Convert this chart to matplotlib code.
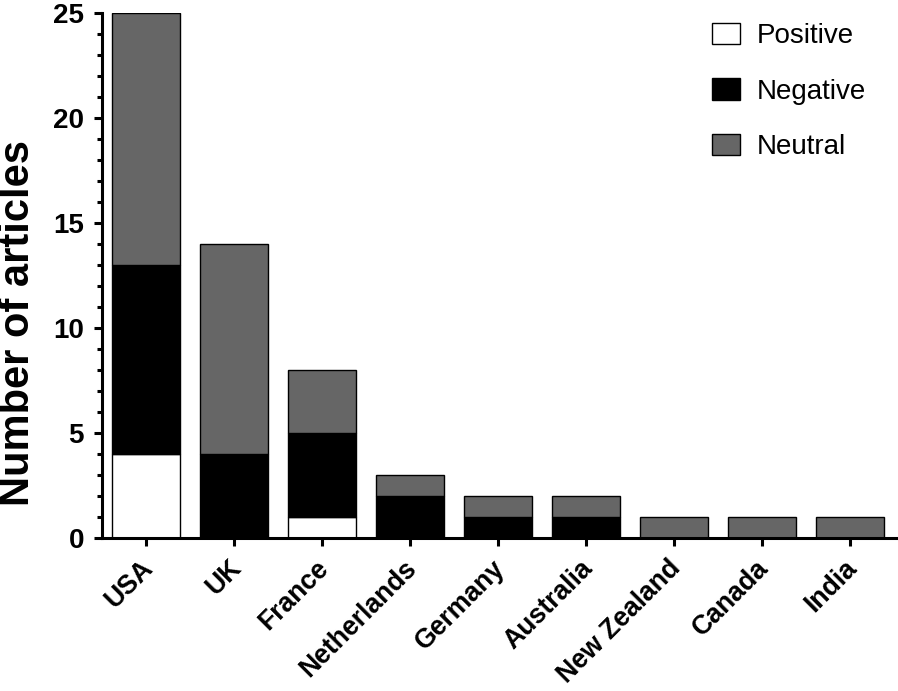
import matplotlib.pyplot as plt
import numpy as np
from matplotlib.ticker import MultipleLocator
from matplotlib.transforms import ScaledTranslation

plt.rcParams['font.family'] = ['Liberation Sans', 'DejaVu Sans']

# data
countries = ['USA', 'UK', 'France', 'Netherlands', 'Germany', 'Australia',
             'New Zealand', 'Canada', 'India']
positive = [4, 0, 1, 0, 0, 0, 0, 0, 0]
negative = [9, 4, 4, 2, 1, 1, 0, 0, 0]
neutral = [12, 10, 3, 1, 1, 1, 1, 1, 1]

fig = plt.figure(figsize=(8.98, 6.91), dpi=100)
ax = fig.add_axes([102/898, 1 - 538/691, 796/898, 525/691])

x = np.arange(len(countries))
pos = np.array(positive)
neg = np.array(negative)
neu = np.array(neutral)
w = 0.77

ax.bar(x, pos, w, color='white', edgecolor='black', linewidth=1, label='Positive')
ax.bar(x, neg, w, bottom=pos, color='black', edgecolor='black', linewidth=1, label='Negative')
ax.bar(x, neu, w, bottom=pos + neg, color='#666666', edgecolor='black', linewidth=1, label='Neutral')

ax.set_xlim(-0.5, -0.5 + 796/88)
ax.set_ylim(0, 25)
ax.yaxis.set_major_locator(MultipleLocator(5))
ax.yaxis.set_minor_locator(MultipleLocator(1))

for s in ['top', 'right']:
    ax.spines[s].set_visible(False)
for s in ['left', 'bottom']:
    ax.spines[s].set_linewidth(2.2)

ax.tick_params(axis='both', which='major', width=2.2, length=6, labelsize=20)
ax.tick_params(axis='y', which='major', pad=7)
ax.tick_params(axis='y', which='minor', width=2.2, length=3.5)
ax.set_xticks(x)
ax.set_xticklabels(countries, rotation=45, ha='right', rotation_mode='anchor',
                   fontweight='bold', fontsize=19.2)
# nudge the rotated labels a bit down-left, like the original
shift = ScaledTranslation(-0.06, -0.04, fig.dpi_scale_trans)
for lab in ax.get_xticklabels():
    lab.set_transform(lab.get_transform() + shift)
for lab in ax.get_yticklabels():
    lab.set_fontweight('bold')

ax.set_ylabel('Number of articles', fontsize=30, fontweight='bold')
ax.yaxis.set_label_coords(-0.08, 0.41)

leg = ax.legend(loc='upper left', frameon=False, fontsize=20, labelspacing=1.05,
                handlelength=1.0, handleheight=0.8, handletextpad=0.6,
                borderpad=0, borderaxespad=0,
                bbox_to_anchor=(712/898, 1 - 23/691), bbox_transform=fig.transFigure)

plt.savefig('out.png', dpi=100)
